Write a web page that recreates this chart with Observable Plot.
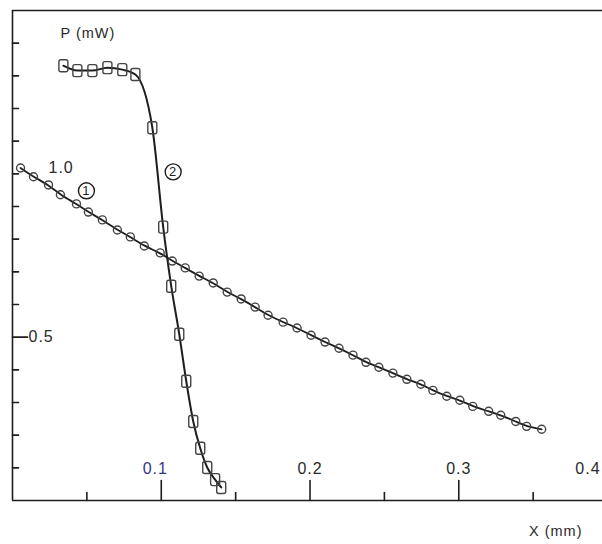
<!DOCTYPE html>
<html><head><meta charset="utf-8">
<script src="https://cdn.jsdelivr.net/npm/d3@7"></script>
<script src="https://cdn.jsdelivr.net/npm/@observablehq/plot@0.6"></script>
<style>body{margin:0;background:#fff} svg{display:block}</style>
</head><body><div id="chart"></div>
<script>
// Curve 1 (circles): X (mm), P (mW)
const x1 = [0.0054,0.0141,0.0242,0.0322,0.0430,0.0510,0.0604,0.0705,0.0792,0.0886,0.0993,0.1074,0.1161,0.1255,0.1349,0.1443,0.1537,0.1631,0.1718,0.1819,0.1913,0.2007,0.2101,0.2195,0.2289,0.2376,0.2463,0.2557,0.2651,0.2745,0.2826,0.2919,0.3007,0.3094,0.3201,0.3282,0.3383,0.3456,0.3557];
const p1 = [1.018,0.991,0.966,0.936,0.908,0.883,0.859,0.828,0.807,0.779,0.758,0.733,0.712,0.687,0.666,0.638,0.617,0.592,0.567,0.546,0.528,0.506,0.485,0.466,0.445,0.423,0.408,0.390,0.371,0.356,0.337,0.319,0.307,0.288,0.273,0.261,0.242,0.227,0.218];
// Curve 2 (squares)
const x2 = [0.0342,0.0436,0.0537,0.0638,0.0738,0.0826,0.0940,0.1013,0.1067,0.1121,0.1168,0.1215,0.1262,0.1309,0.1362,0.1403];
const p2 = [1.331,1.316,1.316,1.325,1.319,1.304,1.141,0.837,0.656,0.509,0.365,0.242,0.160,0.101,0.064,0.040];
// Axis ticks & labels
const xMajorTicks = [0.1,0.2,0.3,0.4];
const xMinorTicks = [0.05,0.15,0.25,0.35];
const xTickLabels = ["0.1","0.2","0.3","0.4"];
const yTicks = [0.1,0.2,0.3,0.4,0.6,0.7,0.8,0.9,1.0,1.1,1.2,1.3,1.4];
const yLongTicks = [0.5];
const yTickLabels = ["1.0","0.5"];
const yTickLabelValues = [1.0,0.5];
// Curve labels
const curveLabels = ["1","2"];
const curveLabelX = [0.0497,0.108];
const curveLabelP = [0.948,1.006];
const xDomain = [0, 0.3966];
const yDomain = [0, 1.5];

const d1 = x1.map((x,i)=>({x, p:p1[i]}));
const d2 = x2.map((x,i)=>({x, p:p2[i]}));
const cl = curveLabels.map((t,i)=>({t, x:curveLabelX[i], p:curveLabelP[i]}));

const ink = "#1e1e1e";
const mark = "#444";
const font = "Liberation Sans, Arial, sans-serif";

const tickShape = { draw(ctx, l) { ctx.moveTo(0,0); ctx.lineTo(0,-l); } };
const roundSquare = { draw(ctx) {
  const w=4.5, h=6, r=2;
  ctx.moveTo(-w+r,-h); ctx.lineTo(w-r,-h); ctx.arcTo(w,-h,w,-h+r,r);
  ctx.lineTo(w,h-r); ctx.arcTo(w,h,w-r,h,r);
  ctx.lineTo(-w+r,h); ctx.arcTo(-w,h,-w,h-r,r);
  ctx.lineTo(-w,-h+r); ctx.arcTo(-w,-h,-w+r,-h,r); ctx.closePath();
}};

const labelShift = [-6,0,0,-7];
const labelAnchor = ["middle","middle","middle","end"];

const chart = Plot.plot({
  width: 602, height: 544,
  marginLeft: 12, marginRight: 0, marginTop: 10, marginBottom: 44,
  x: {domain: xDomain, axis: null},
  y: {domain: yDomain, axis: null},
  style: {fontFamily: font, background: "#fff"},
  marks: [
    // frame lines
    Plot.ruleX([xDomain[0]], {stroke: ink, strokeWidth: 1.6}),
    Plot.ruleY([yDomain[0]], {stroke: ink, strokeWidth: 1.6}),
    Plot.ruleY([yDomain[1]], {stroke: ink, strokeWidth: 1.3}),
    // ticks
    Plot.vector(xMajorTicks, {x: d=>d, y: () => 0, length: 20, rotate: 0, anchor: "start", shape: tickShape, stroke: ink, strokeWidth: 1.6}),
    Plot.vector(xMinorTicks, {x: d=>d, y: () => 0, length: 8, rotate: 0, anchor: "start", shape: tickShape, stroke: ink, strokeWidth: 1.6}),
    Plot.vector(yTicks, {x: () => 0, y: d=>d, length: 6, rotate: 90, anchor: "start", shape: tickShape, stroke: ink, strokeWidth: 1.6}),
    Plot.vector(yLongTicks, {x: () => 0, y: d=>d, length: 15, rotate: 90, anchor: "start", shape: tickShape, stroke: ink, strokeWidth: 1.6}),
    // x tick labels
    ...xTickLabels.map((t,i) => Plot.text([t], {x: () => xMajorTicks[i], y: () => 0, text: d=>d, dy: -32, dx: labelShift[i], textAnchor: labelAnchor[i], fontSize: 16, fill: i===0 ? "#363683" : "#2a2a2a"})),
    // y tick labels
    Plot.text([yTickLabels[0]], {x: () => 0, y: () => yTickLabelValues[0], text: d=>d, dx: 36, dy: -6, textAnchor: "start", fontSize: 16, fill: "#2a2a2a"}),
    Plot.text([yTickLabels[1]], {x: () => 0, y: () => yTickLabelValues[1], text: d=>d, dx: 16, dy: 0, textAnchor: "start", fontSize: 16, fill: "#2a2a2a"}),
    // axis titles
    Plot.text(["P (mW)"], {frameAnchor: "top-left", dx: 48, dy: 17, text: d=>d, textAnchor: "start", fontSize: 14.5, fill: "#2a2a2a"}),
    Plot.text(["X (mm)"], {frameAnchor: "bottom-right", dx: -20, dy: 35, text: d=>d, textAnchor: "end", fontSize: 14.5, fill: "#2a2a2a"}),
    // curves
    Plot.line(d1, {x: "x", y: "p", curve: "basis", stroke: ink, strokeWidth: 1.8}),
    Plot.line(d2, {x: "x", y: "p", curve: "monotone-x", stroke: ink, strokeWidth: 2}),
    Plot.dot(d1, {x: "x", y: "p", r: 4, stroke: mark, strokeWidth: 1.4, fill: "none"}),
    Plot.dot(d2, {x: "x", y: "p", symbol: roundSquare, r: 6, stroke: mark, strokeWidth: 1.4, fill: "none"}),
    // circled curve labels
    Plot.dot(cl, {x: "x", y: "p", r: 8, stroke: ink, strokeWidth: 1.4, fill: "#fff"}),
    Plot.text(cl, {x: "x", y: "p", text: "t", fontSize: 13, fill: ink})
  ]
});
chart.querySelectorAll("text").forEach(t => { t.style.letterSpacing = "1px"; });
document.getElementById("chart").appendChild(chart);
</script>
</body></html>
